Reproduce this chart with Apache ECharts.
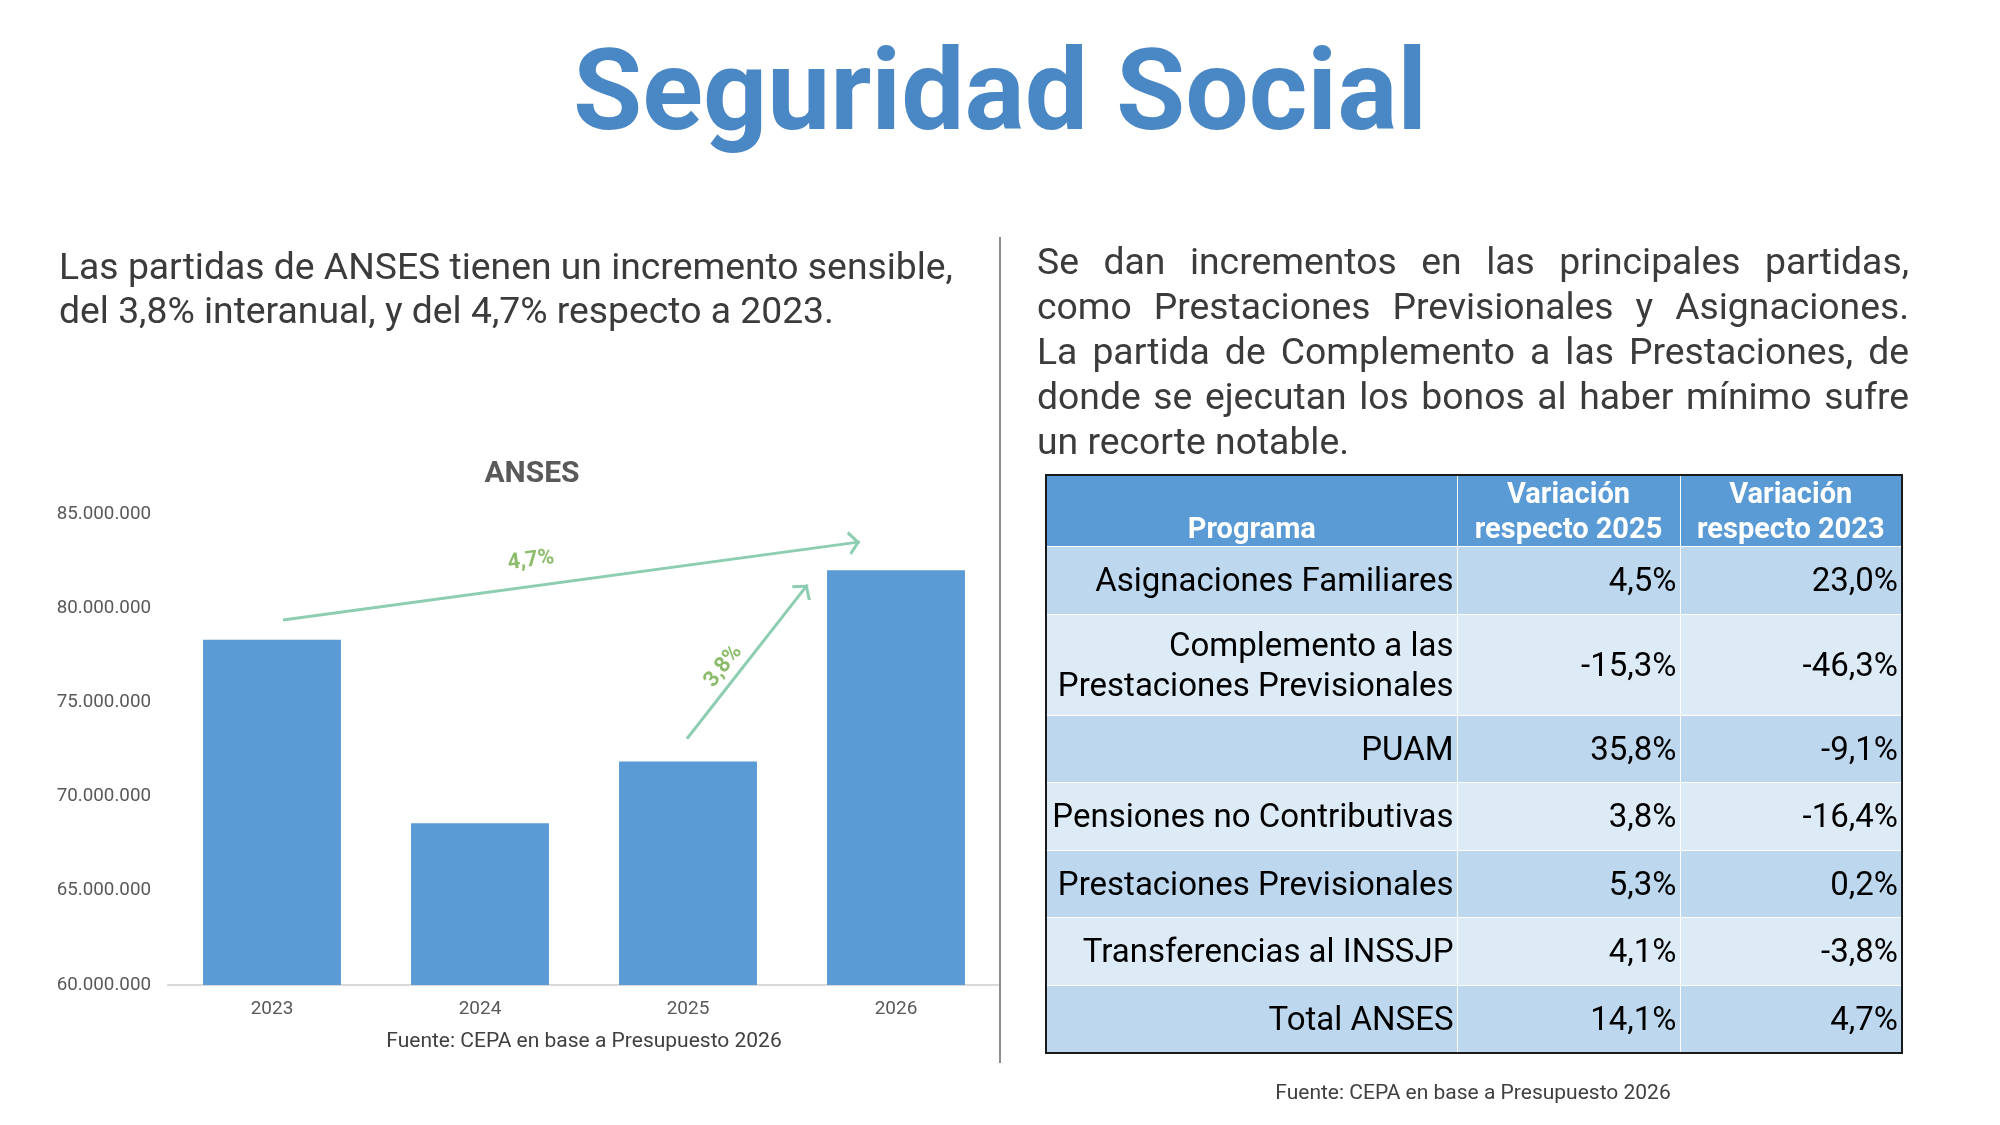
<!DOCTYPE html>
<html lang="es">
<head>
<meta charset="utf-8">
<title>Seguridad Social</title>
<script src="https://cdn.jsdelivr.net/npm/echarts@6/dist/echarts.min.js"></script>
<style>
html, body { margin: 0; padding: 0; background: #fff; }
body { width: 2000px; height: 1125px; position: relative; overflow: hidden; font-family: Roboto, "Noto Sans", sans-serif; }
#chart { position: absolute; left: 0; top: 0; width: 2000px; height: 1125px; }
#titulo { position: absolute; left: 0; top: 35px; width: 2000px; text-align: center; font-size: 112.5px; line-height: 112.5px; font-weight: 700; color: #4a87c5; }
.texto { position: absolute; font-size: 37.3px; color: #3b3b3b; }
#textoIzq { left: 59px; top: 244px; width: 940px; line-height: 44px; }
#textoDer { left: 1037px; top: 239px; width: 872px; line-height: 45px; }
#textoDer div { text-align: justify; text-align-last: justify; white-space: nowrap; }
#textoDer div:last-child { text-align-last: left; }
#divisor { position: absolute; left: 999px; top: 237px; width: 2px; height: 826px; background: #8c8c8c; }
#tabla { position: absolute; left: 1045px; top: 474px; width: 856px; border-collapse: collapse; table-layout: fixed; border: 2.5px solid #1a1a1a; }
#tabla th, #tabla td { border: 1.5px solid #fff; padding: 0 3px 0 0; }
#tabla th { background: #5b9bd5; color: #fff; font-weight: 700; font-size: 29px; line-height: 35px; text-align: center; vertical-align: bottom; padding: 0; }
#tabla td { color: #000; font-size: 33px; line-height: 40px; text-align: right; vertical-align: middle; }
#tabla tr.oscura td { background: #bdd7ee; }
#tabla tr.clara td { background: #ddebf7; }
.fuente { position: absolute; font-size: 21px; line-height: 24px; color: #404040; text-align: center; width: 600px; }
#fuenteTabla { left: 1173px; top: 1080px; }
</style>
</head>
<body>
<div id="chart"></div>
<div id="titulo">Seguridad Social</div>
<div id="textoIzq" class="texto">Las partidas de ANSES tienen un incremento sensible,<br>del 3,8% interanual, y del 4,7% respecto a 2023.</div>
<div id="textoDer" class="texto"></div>
<div id="divisor"></div>
<table id="tabla"></table>
<div id="fuenteTabla" class="fuente"></div>
<script>
// datos del grafico ANSES
const anios = ['2023', '2024', '2025', '2026'];
const partidasAnses = [78330000, 68590000, 71860000, 82020000];
const ejeMin = 60000000;
const ejeMax = 85000000;
const ejeIntervalo = 5000000;

// flechas de variacion (coordenadas en el eje: indice de año, valor)
const flechaDesde = [[0.053, 79370000], [1.995, 73070000]];
const flechaHasta = [[2.827, 83520000], [2.575, 81250000]];
const etiquetasFlecha = ['4,7%', '3,8%'];
const etiquetasPos = [[1.245, 82530000], [2.170, 76910000]];
const etiquetasGiro = [7.7, 52];

// datos de la tabla
const encabezados = ['Programa', 'Variación\nrespecto 2025', 'Variación\nrespecto 2023'];
const programas = ['Asignaciones Familiares', 'Complemento a las\nPrestaciones Previsionales', 'PUAM',
  'Pensiones no Contributivas', 'Prestaciones Previsionales', 'Transferencias al INSSJP', 'Total ANSES'];
const variacion2025 = ['4,5%', '-15,3%', '35,8%', '3,8%', '5,3%', '4,1%', '14,1%'];
const variacion2023 = ['23,0%', '-46,3%', '-9,1%', '-16,4%', '0,2%', '-3,8%', '4,7%'];

const lineasDerecha = [
  'Se dan incrementos en las principales partidas,',
  'como Prestaciones Previsionales y Asignaciones.',
  'La partida de Complemento a las Prestaciones, de',
  'donde se ejecutan los bonos al haber mínimo sufre',
  'un recorte notable.'
];
const fuente = 'Fuente: CEPA en base a Presupuesto 2026';

/* TEXTO DERECHO */
const textoDer = document.getElementById('textoDer');
lineasDerecha.forEach(function (l) {
  const d = document.createElement('div');
  d.textContent = l;
  textoDer.appendChild(d);
});
document.getElementById('fuenteTabla').textContent = fuente;

/* TABLA */
const tabla = document.getElementById('tabla');
let html = '<colgroup><col style="width:411px"><col style="width:223px"><col style="width:222px"></colgroup>';
html += '<tr style="height:71px">' + encabezados.map(function (e) {
  return '<th>' + e.replace('\n', '<br>') + '</th>';
}).join('') + '</tr>';
programas.forEach(function (p, i) {
  const alto = p.indexOf('\n') >= 0 ? 101 : 67.5;
  html += '<tr class="' + (i % 2 === 0 ? 'oscura' : 'clara') + '" style="height:' + alto + 'px">' +
    '<td>' + p.replace('\n', '<br>') + '</td><td>' + variacion2025[i] + '</td><td>' + variacion2023[i] + '</td></tr>';
});
tabla.innerHTML = html;

/* GRAFICO */
function miles(v) {
  return String(v).replace(/\B(?=(\d{3})+(?!\d))/g, '.');
}

// punta de flecha abierta, con el vertice en el centro del simbolo
const punta = 'path://M10,0 L20,10 L18,12 L10,4 L2,12 L0,10 Z M10,-12 L10.001,-12 L10,-11.999 Z';

const myChart = echarts.init(document.getElementById('chart'));
myChart.setOption({
  animation: false,
  textStyle: { fontFamily: 'Roboto' },
  grid: { left: 168, right: 1000, top: 514, height: 471 },
  graphic: [
    { type: 'text', x: 532, y: 474, style: { text: 'ANSES', textAlign: 'center', textVerticalAlign: 'middle', font: 'bold 30px Roboto', fill: '#595959' } },
    { type: 'text', x: 584, y: 1042, style: { text: fuente, textAlign: 'center', textVerticalAlign: 'middle', font: '21px Roboto', fill: '#404040' } }
  ],
  xAxis: [
    {
      type: 'category',
      data: anios,
      axisLine: { lineStyle: { color: '#d9d9d9', width: 2 } },
      axisTick: { show: false },
      axisLabel: { fontSize: 19, color: '#595959', margin: 15 }
    },
    { type: 'value', min: -0.5, max: 3.5, show: false }
  ],
  yAxis: {
    type: 'value',
    min: ejeMin,
    max: ejeMax,
    interval: ejeIntervalo,
    axisLine: { show: false },
    axisTick: { show: false },
    splitLine: { show: false },
    axisLabel: { fontSize: 18.8, color: '#595959', margin: 17, formatter: miles }
  },
  series: [
    {
      type: 'bar',
      data: partidasAnses,
      barCategoryGap: '33.7%',
      itemStyle: { color: '#5b9bd5' },
      silent: true
    },
    {
      type: 'line',
      xAxisIndex: 1,
      data: [],
      silent: true,
      markLine: {
        silent: true,
        symbol: ['none', punta],
        symbolSize: [24, 24],
        label: { show: false },
        lineStyle: { color: '#8dcdb1', width: 3, type: 'solid' },
        emphasis: { disabled: true },
        data: flechaDesde.map(function (d, i) {
          return [{ coord: d }, { coord: flechaHasta[i] }];
        })
      }
    },
    {
      type: 'scatter',
      xAxisIndex: 1,
      symbolSize: 0,
      silent: true,
      data: etiquetasPos.map(function (p, i) {
        return { name: etiquetasFlecha[i], value: p, label: { rotate: etiquetasGiro[i] } };
      }),
      label: {
        show: true,
        position: 'inside',
        formatter: '{b}',
        fontSize: 22,
        fontWeight: 'bold',
        color: '#70ad47'
      }
    }
  ]
});
</script>
</body>
</html>
